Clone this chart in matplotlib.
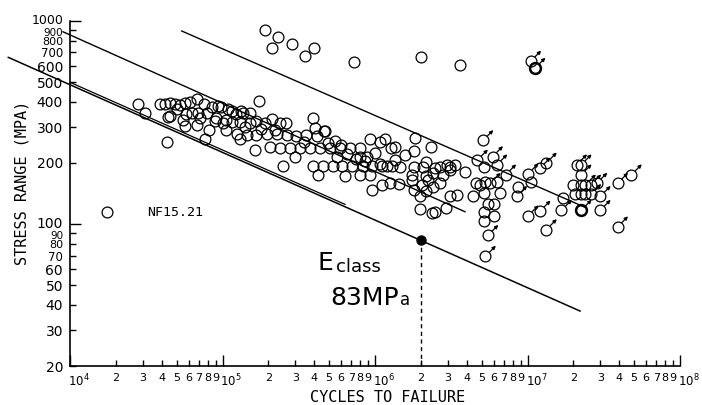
import matplotlib
matplotlib.use("Agg")
import matplotlib.pyplot as plt
from matplotlib.ticker import FixedLocator, FixedFormatter
from matplotlib.transforms import offset_copy, ScaledTranslation

# ---------------- data ----------------
# failures: cycles N, stress range S (MPa)
fail_N = [
    1.9e5, 2.3e5, 2.1e5, 2.85e5, 4.0e5, 3.5e5, 7.3e5, 2.0e6, 3.6e6,
    1.75e4, 4.3e4,
    2.8e4, 3.9e4, 4.2e4, 4.5e4, 4.9e4, 5.3e4, 5.7e4, 6.1e4, 7.6e4, 6.8e4, 1.73e5,
    3.1e4, 4.4e4, 5.0e4, 5.8e4, 6.3e4, 6.9e4, 7.9e4, 8.5e4, 9.4e4, 9.8e4, 1.08e5,
    1.15e5, 1.23e5, 1.33e5, 1.37e5, 1.51e5,
    5.7e4, 6.8e4, 4.5e4, 5.5e4, 7.1e4, 8.1e4, 7.7e4, 9.1e4, 1.06e5,
    8.9e4, 1.01e5, 1.15e5, 1.30e5, 1.51e5, 1.67e5, 1.90e5, 2.11e5, 2.38e5, 2.6e5,
    1.06e5, 1.24e5, 1.44e5, 1.67e5, 1.95e5, 2.27e5, 2.63e5, 3.05e5, 3.54e5, 4.14e5, 4.6e5,
    1.30e5, 1.63e5, 3.95e5, 4.04e5, 4.70e5, 5.47e5, 6.0e5,
    2.05e5, 2.38e5, 2.77e5, 3.22e5, 3.75e5, 4.36e5, 5.07e5, 5.89e5, 6.85e5, 7.97e5, 1.28e6, 1.35e6,
    9.3e5, 1.08e6, 1.16e6,
    2.5e5, 2.99e5,
    3.95e5, 4.56e5, 5.27e5, 6.1e5, 7.1e5, 8.3e5, 9.6e5, 1.11e6, 1.3e6,
    4.2e5, 6.4e5, 8.0e5, 9.3e5,
    8.0e5, 8.8e5,
    9.5e5, 1.11e6, 1.25e6, 1.43e6,
    1.83e6, 2.33e6, 1.57e6, 1.79e6,
    1.08e6, 1.19e6, 1.35e6, 1.46e6,
    1.79e6, 2.07e6, 2.17e6, 2.47e6, 2.67e6, 2.95e6, 3.1e6, 3.35e6, 3.89e6,
    1.74e6, 1.79e6, 2.03e6, 2.23e6, 2.4e6, 2.67e6,
    1.74e6, 2.17e6, 2.4e6, 2.78e6, 3.1e6,
    1.97e6, 2.17e6, 3.1e6, 3.45e6,
    1.97e6, 2.35e6, 2.47e6, 2.9e6,
    5.2e6, 4.6e6, 4.9e6, 5.3e6, 6.3e6, 6.6e6, 4.4e6, 5.2e6, 5.5e6, 6.0e6, 5.2e6, 6.0e6, 5.2e6,
    8.7e6, 1.06e7, 1.72e7,
    2.0e7, 2.25e7, 2.05e7, 2.25e7, 2.4e7,
    1.4e5, 1.8e5, 2.2e5, 3.4e5, 4.9e5, 5.6e5, 6.6e5, 7.5e5, 8.6e5, 1.0e6,
]
fail_S = [
    903, 834, 736, 771, 736, 673, 628, 665, 607,
    115, 255,
    390, 392, 392, 395, 390, 385, 393, 397, 390, 415, 402,
    354, 335, 367, 347, 354, 354, 354, 378, 382, 375, 367,
    360, 347, 360, 352, 352,
    303, 309, 340, 327, 334, 290, 263, 334, 327,
    322, 316, 318, 318, 316, 322, 316, 330, 316, 316,
    292, 277, 273, 273, 277, 277, 273, 271, 273, 271, 286,
    261, 232, 334, 298, 287, 256, 246,
    240, 238, 238, 238, 238, 238, 238, 236, 236, 236, 238, 240,
    261, 255, 261,
    194, 215,
    194, 194, 194, 194, 194, 194, 194, 194, 194,
    175, 172, 175, 175,
    215, 215,
    147, 156, 159, 158,
    264, 240, 220, 229,
    197, 194, 207, 192,
    192, 192, 203, 188, 192, 195, 192, 195, 181,
    165, 147, 156, 165, 153, 159,
    175, 172, 178, 175, 185,
    137, 145, 137, 139,
    118, 114, 115, 120,
    192, 159, 156, 162, 162, 142, 137, 142, 126, 126, 115, 109, 103,
    153, 162, 134,
    156, 156, 140, 140, 140,
    300, 295, 290, 255, 250, 215, 222, 210, 205, 225,
]

# run-outs (unbroken specimens, drawn with arrows)
run_N = [1.05e7, 4.7e6, 5.9e6, 6.3e6, 5.1e6, 5.7e6, 5.5e6, 5.3e6, 7.2e6, 8.5e6,
         1.01e7, 1.21e7, 1.33e7, 1.01e7, 1.21e7, 1.33e7, 1.67e7, 2.1e7, 2.25e7,
         2.25e7, 2.4e7, 2.6e7, 2.85e7, 2.6e7, 3.0e7, 3.0e7, 3.9e7, 3.9e7, 4.8e7]
run_S = [635, 207, 215, 196, 258, 159, 88, 69.5, 175, 137,
         177, 189, 200, 110, 116, 94, 117, 196, 196,
         175, 156, 156, 159, 140, 137, 117, 97, 159, 175]
# bold run-outs
bold_N = [1.12e7, 2.25e7]
bold_S = [586, 117]

# S-N lines (endpoints)
lineA_N = [9.0e3, 3.89e6]
lineA_S = [885, 115]
lineB_N = [5.4e4, 2.38e7]
lineB_S = [893, 121]
eclass_N = [3.94e3, 2.21e7]
eclass_S = [662, 37.3]
double_N = [1.0e4, 6.36e5]
double_S = [499, 125]
point_N = 2.0e6
point_S = 83

x_major = [1e4, 1e5, 1e6, 1e7, 1e8]
x_major_labels = [r"$10^4$", r"$10^5$", r"$10^6$", r"$10^7$", r"$10^8$"]
x_minor = [k * 10 ** e for e in range(4, 8) for k in range(2, 10)]
x_minor_labels = [str(k) for e in range(4, 8) for k in range(2, 10)]
y_major = [100, 1000]
y_major_labels = ["100", "1000"]
y_minor = [20, 30, 40, 50, 60, 70, 80, 90, 200, 300, 400, 500, 600, 700, 800, 900]
y_minor_labels = [str(v) for v in y_minor]

# ---------------- figure ----------------
W, H = 702, 405
fig = plt.figure(figsize=(W / 100, H / 100), dpi=100)
ax = fig.add_axes([70 / W, 39 / H, 610 / W, 345 / H])
ax.set_xscale("log")
ax.set_yscale("log")
ax.set_xlim(1e4, 1e8)
ax.set_ylim(20, 1000)

for s in ["top", "right"]:
    ax.spines[s].set_visible(False)
for s in ["left", "bottom"]:
    ax.spines[s].set_linewidth(1.2)

ax.xaxis.set_major_locator(FixedLocator(x_major))
ax.xaxis.set_major_formatter(FixedFormatter(x_major_labels))
ax.xaxis.set_minor_locator(FixedLocator(x_minor))
ax.xaxis.set_minor_formatter(FixedFormatter(x_minor_labels))
ax.yaxis.set_major_locator(FixedLocator(y_major))
ax.yaxis.set_major_formatter(FixedFormatter(y_major_labels))
ax.yaxis.set_minor_locator(FixedLocator(y_minor))
ax.yaxis.set_minor_formatter(FixedFormatter(y_minor_labels))

ax.tick_params(axis="both", which="major", direction="in", length=8, width=1.0)
ax.tick_params(axis="both", which="minor", direction="in", length=4, width=1.0)
ax.tick_params(axis="y", which="both", labelsize=10, pad=5)
ax.tick_params(axis="x", which="minor", labelsize=8, pad=5)
ax.tick_params(axis="x", which="major", labelsize=8.5, pad=5)

lc = "black"
ax.plot(lineA_N, lineA_S, color=lc, lw=1.0, clip_on=False)
ax.plot(lineB_N, lineB_S, color=lc, lw=1.0, clip_on=False)
ax.plot(eclass_N, eclass_S, color=lc, lw=1.1, clip_on=False)
ax.plot(double_N, double_S, color=lc, lw=0.9, clip_on=False)
ax.plot([point_N, point_N], [20, point_S], color=lc, lw=1.0, ls=(0, (3, 2.5)))
ax.plot([point_N], [point_S], "o", color=lc, ms=6.5)

mk = dict(marker="o", ls="none", mfc="none", mec="black", ms=7.8, mew=0.9)
ax.plot(fail_N, fail_S, **mk)
ax.plot(run_N, run_S, **mk)
ax.plot(bold_N, bold_S, marker="o", ls="none", mfc="none", mec="black", ms=7.8, mew=1.8)

tip = offset_copy(ax.transData, fig=fig, x=7.5, y=7.5, units="points")
for n, s in zip(run_N + bold_N, run_S + bold_S):
    ax.annotate("", xy=(n, s), xycoords=tip, xytext=(-4.5, -4.5),
                textcoords="offset points",
                arrowprops=dict(arrowstyle="-|>", lw=0.9, color="black",
                                mutation_scale=5, shrinkA=0, shrinkB=0))

mono = "DejaVu Sans Mono"
fig.text(22 / W, 1 - 183 / H, "STRESS RANGE (MPA)", rotation=90, ha="center",
         va="center", fontsize=11, family=mono)
fig.text(388 / W, 1 - 397 / H, "CYCLES TO FAILURE", ha="center", va="center",
         fontsize=11, family=mono)
fig.text(147 / W, 1 - 216 / H, "NF15.21", ha="left", va="baseline",
         fontsize=9.5, family=mono)

fig.text(318 / W, 1 - 270 / H, "E", fontsize=18, va="baseline", ha="left")
fig.text(336 / W, 1 - 272 / H, "class", fontsize=13, va="baseline", ha="left")
fig.text(330 / W, 1 - 305 / H, "83MP", fontsize=18, va="baseline", ha="left")
fig.text(400 / W, 1 - 305 / H, "a", fontsize=12, va="baseline", ha="left")

# finalize tick label styling after ticks exist
fig.canvas.draw()
shift = ScaledTranslation(-2 / 100, 0, fig.dpi_scale_trans)
for lab in ax.xaxis.get_majorticklabels():
    lab.set_horizontalalignment("left")
    lab.set_transform(lab.get_transform() + shift)
crowded = {"70": 8.5, "80": 8, "90": 7.5, "700": 8.5, "800": 8, "900": 7.5}
down = ScaledTranslation(0, -1.5 / 100, fig.dpi_scale_trans)
up = ScaledTranslation(0, 2 / 100, fig.dpi_scale_trans)
for t in ax.yaxis.get_minor_ticks():
    txt = t.label1.get_text()
    if txt in crowded:
        t.label1.set_fontsize(crowded[txt])
    if txt in ("90", "900"):
        t.label1.set_transform(t.label1.get_transform() + down)
for t in ax.yaxis.get_major_ticks():
    t.label1.set_transform(t.label1.get_transform() + up)
    if t.label1.get_text() == "1000":
        t.label1.set_fontsize(9)

fig.savefig("out.png", dpi=100)
